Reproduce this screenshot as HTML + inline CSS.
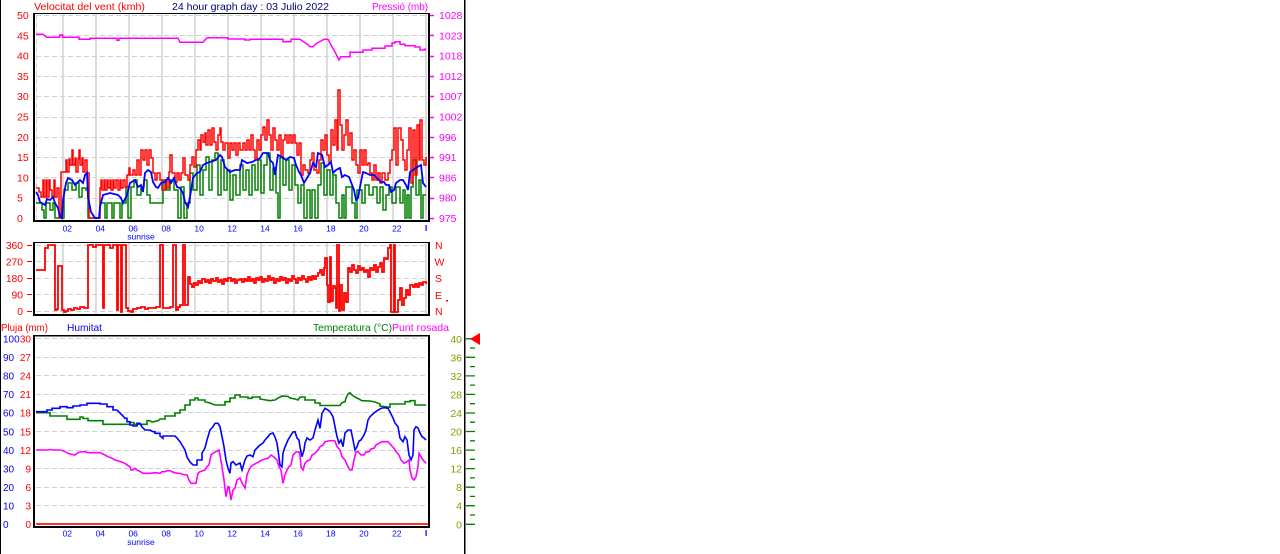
<!DOCTYPE html>
<html>
<head>
<meta charset="utf-8">
<style>
html,body{margin:0;padding:0;background:#fff;}
svg{display:block;}
text{font-family:"Liberation Sans",Arial,sans-serif;}
</style>
</head>
<body>
<svg width="1280" height="554" viewBox="0 0 1280 554" xmlns="http://www.w3.org/2000/svg">
<rect x="0" y="0" width="1280" height="554" fill="#fff"/>
<!-- outer lines -->
<rect x="0" y="0" width="1" height="554" fill="#000"/>
<rect x="464" y="0" width="1.5" height="554" fill="#000"/>

<!-- ========== TOP PANEL ========== -->
<g fill="#dcdcdc">
<rect x="62" y="14" width="2" height="206"/><rect x="95" y="14" width="2" height="206"/><rect x="128" y="14" width="2" height="206"/><rect x="161" y="14" width="2" height="206"/><rect x="194" y="14" width="2" height="206"/><rect x="227" y="14" width="2" height="206"/><rect x="260" y="14" width="2" height="206"/><rect x="293" y="14" width="2" height="206"/><rect x="326" y="14" width="2" height="206"/><rect x="359" y="14" width="2" height="206"/><rect x="392" y="14" width="2" height="206"/><rect x="425" y="14" width="2" height="206"/>
</g>
<g stroke="#d0d0d0" stroke-width="1" stroke-dasharray="5 3" fill="none">
<path d="M36 15.5H427M36 35.5H427M36 56.5H427M36 76.5H427M36 96.5H427M36 117.5H427M36 137.5H427M36 157.5H427M36 177.5H427M36 198.5H427"/>
<path d="M36.5 15V219"/>
</g>

<!-- pressure -->
<path fill="none" stroke="#ff00ff" stroke-width="1.5" d="M36 34.3 H43 L46.7 37.3 H59.5 V35 H62.7 V37.3 H79 V39.3 H90 V38.3 H117 V40.3 H119 V38.3 H178 L180 42.3 H203 L207 37.7 H228 V39 H245 V40 H250 V39.3 H283 V41.7 H291 V39.3 H300 L304 42 L307 44 L310 46.7 H313 L317 43 L321 41 L324 39.3 H328 L331 45 L335 52 L339 60 L341 56.7 H350 V52.3 H363 V50 H372 V48.3 H385 V46 H392 V43 H395 V41.7 H400 V44.3 H405 V45.7 H415 V47 H420 V50 H425 V49 H426"/>

<!-- wind green -->
<path fill="none" stroke="#008000" stroke-width="1.5" d="M36 203 H42 V210 H44 V218 H46 V203 H50 V210 H53 V203 H55 V218 H64 V190 H68 V183 H72 V190 H76 V183 H79 V197 H82 V188 H86 V190 H88 V218 H100 V203 H105 V218 H107 V203 H112 V218 H114 V203 H120 V218 H122 V203 H126 V187 H128 V218 H131 V187 H134 V180 H137 V195 H141 V187 H144 V180 H147 V195 H150 V203 H163 V180 H166 V190 H170 V180 H174 V190 H178 V218 H181 V187 H184 V218 H187 V203 H190 V173 H193 V190 H197 V165 H200 V195 H203 V170 H206 V157 H209 V190 H212 V160 H215 V153 H218 V195 H221 V160 H224 V190 H227 V170 H230 V200 H233 V175 H236 V195 H240 V165 H243 V190 H246 V170 H249 V195 H252 V165 H255 V190 H258 V160 H261 V193 H264 V165 H267 V153 H270 V190 H273 V168 H276 V193 H278 V218 H280 V158 H283 V185 H286 V160 H289 V190 H292 V165 H295 V185 H298 V203 H301 V185 H304 V218 H307 V190 H310 V218 H312 V190 H315 V218 H318 V185 H321 V163 H324 V195 H327 V170 H330 V195 H333 V175 H336 V203 H339 V218 H342 V195 H344 V218 H346 V187 H352 V203 H355 V218 H357 V190 H362 V203 H365 V185 H369 V195 H373 V187 H377 V203 H380 V187 H383 V210 H386 V195 H389 V187 H392 V203 H396 V187 H400 V203 H403 V190 H405 V218 H407 V195 H409 V218 H411 V187 H413 V160 H416 V195 H419 V180 H421 V218 H423 V195 H426"/>

<!-- wind gust red -->
<path fill="none" stroke="#ff0000" stroke-width="1.5" d="M36 188 H39 V192 H41 V197 H43 V180 H44 V197 H46 V180 H47 V197 H49 V180 H50 V190 H52 V197 H54 V180 H55 V197 H57 V188 H59 V218 H61 V172 H64 V172 H66 V160 H67 V172 H69 V159 H70 V165 H72 V150 H73 V165 H75 V158 H76 V172 H78 V159 H79 V150 H80 V165 H82 V158 H83 V172 H85 V160 H87 V173 H89 V218 H100 V188 H101 V180 H102 V190 H104 V180 H105 V190 H107 V180 H108 V188 H110 V180 H111 V190 H113 V180 H114 V188 H116 V180 H118 V190 H120 V180 H121 V188 H123 V180 H125 V187 H127 V175 H129 V168 H130 V175 H133 V170 H135 V175 H137 V160 H139 V175 H141 V150 H143 V160 H145 V150 H147 V165 H149 V150 H151 V158 H153 V173 H155 V180 H157 V173 H160 V180 H162 V190 H165 V180 H167 V188 H169 V172 H170 V155 H172 V173 H175 V182 H177 V173 H179 V180 H181 V173 H183 V158 H185 V175 H188 V180 H190 V165 H192 V157 H194 V167 H196 V150 H198 V140 H200 V150 H201 V135 H203 V142 H205 V133 H206 V145 H208 V130 H210 V145 H212 V128 H214 V142 H216 V150 H218 V135 H220 V128 H221 V142 H223 V150 H225 V143 H228 V158 H230 V143 H232 V150 H234 V143 H236 V155 H238 V143 H240 V150 H243 V143 H245 V150 H247 V140 H249 V150 H251 V135 H253 V150 H255 V160 H257 V140 H259 V150 H261 V135 H263 V127 H265 V140 H267 V120 H269 V135 H271 V150 H273 V128 H275 V140 H277 V150 H279 V135 H281 V157 H283 V140 H285 V135 H287 V143 H289 V135 H291 V143 H293 V135 H295 V143 H297 V155 H299 V143 H301 V175 H303 V165 H305 V170 H308 V173 H310 V160 H312 V153 H314 V170 H317 V173 H319 V160 H321 V140 H323 V150 H325 V135 H327 V155 H329 V163 H331 V130 H333 V145 H335 V120 H337 V150 H338 V90 H340 V125 H342 V150 H344 V135 H346 V120 H348 V145 H350 V133 H352 V160 H354 V150 H356 V165 H358 V173 H360 V150 H362 V165 H364 V150 H366 V165 H368 V163 H370 V173 H372 V180 H374 V165 H376 V180 H378 V173 H380 V183 H382 V173 H385 V180 H388 V173 H390 V160 H392 V150 H394 V128 H396 V165 H398 V128 H401 V140 H403 V160 H405 V170 H407 V150 H409 V128 H411 V183 H413 V130 H415 V175 H417 V125 H419 V160 H420 V120 H422 V160 H424 V165 H426 V157"/>

<!-- wind avg blue -->
<polyline fill="none" stroke="#0000ff" stroke-width="1.8" points="36,192 38,195 40,202 45,205 47,199 50,200 53,197 55,203 58,208 60,216 62,218 63,200 66,183 68,178 72,180 75,185 77,183 80,180 83,183 85,175 87,173 88,197 91,212 95,218 99,218 100,207 103,195 110,193 118,195 121,198 123,203 127,195 130,183 135,180 138,187 141,185 143,192 145,173 148,170 151,172 153,182 156,187 158,188 161,183 165,182 168,178 171,183 174,178 177,187 180,188 183,193 185,202 188,207 190,197 193,178 197,173 200,172 203,165 207,163 213,161 216,160 220,155 222,157 225,167 230,172 235,170 240,170 242,160 247,163 252,162 256,160 260,158 263,153 268,153 270,160 273,163 275,175 278,155 282,157 286,160 290,157 294,158 296,165 299,172 301,175 304,183 307,178 310,173 313,163 316,167 318,153 322,155 325,167 328,165 331,162 333,173 336,170 340,168 342,177 345,175 349,177 351,182 354,190 356,200 358,198 360,187 363,172 366,173 370,175 374,175 377,178 381,182 384,182 386,185 389,185 391,192 394,190 396,183 400,180 403,180 406,185 408,190 410,172 413,170 416,168 419,166 421,165 423,183 426,187"/>

<!-- top frame -->
<g fill="#000">
<rect x="33" y="13" width="397" height="1"/>
<rect x="33" y="13" width="2" height="209"/>
<rect x="428" y="13" width="2" height="209"/>
<rect x="33" y="220" width="397" height="2"/>
</g>
<!-- right axis ticks -->
<path stroke="#ff00ff" stroke-width="1.5" d="M430 15.5H434M430 35.5H434M430 56.5H434M430 76.5H434M430 96.5H434M430 117.5H434M430 137.5H434M430 157.5H434M430 177.5H434M430 198.5H434M430 218.5H434"/>

<!-- top titles -->
<text x="34" y="10" fill="#ff0000" font-size="10.5" textLength="111" lengthAdjust="spacingAndGlyphs">Velocitat del vent (kmh)</text>
<text x="172" y="10" fill="#000080" font-size="10.5" textLength="157" lengthAdjust="spacingAndGlyphs">24 hour graph day : 03 Julio 2022</text>
<text x="372" y="10" fill="#ff00ff" font-size="10.5" textLength="56" lengthAdjust="spacingAndGlyphs">Pressió (mb)</text>

<g fill="#ff0000" font-size="10.5">
<text x="17" y="19">50</text><text x="17" y="39.3">45</text><text x="17" y="59.6">40</text><text x="17" y="79.9">35</text><text x="17" y="100.2">30</text><text x="17" y="120.5">25</text><text x="17" y="140.8">20</text><text x="17" y="161.1">15</text><text x="17" y="181.4">10</text><text x="17" y="201.7">5</text><text x="17" y="222">0</text>
</g>
<g fill="#ff00ff" font-size="10.5">
<text x="439" y="19">1028</text><text x="439" y="39.3">1023</text><text x="439" y="59.6">1018</text><text x="439" y="79.9">1012</text><text x="439" y="100.2">1007</text><text x="439" y="120.5">1002</text><text x="439" y="140.8">996</text><text x="439" y="161.1">991</text><text x="439" y="181.4">986</text><text x="439" y="201.7">980</text><text x="439" y="222">975</text>
</g>
<g fill="#0000ff" font-size="8.5" text-anchor="middle">
<text x="67.3" y="231.5">02</text><text x="100.3" y="231.5">04</text><text x="133.2" y="231.5">06</text><text x="166.2" y="231.5">08</text><text x="199.1" y="231.5">10</text><text x="232.1" y="231.5">12</text><text x="265" y="231.5">14</text><text x="298" y="231.5">16</text><text x="330.9" y="231.5">18</text><text x="363.9" y="231.5">20</text><text x="396.8" y="231.5">22</text>
<text x="141" y="239.5">sunrise</text>
</g>
<rect x="425.5" y="225" width="1.2" height="6" fill="#0000ff"/>

<!-- ========== DIRECTION PANEL ========== -->
<g fill="#dcdcdc">
<rect x="62" y="243" width="2" height="71"/><rect x="95" y="243" width="2" height="71"/><rect x="128" y="243" width="2" height="71"/><rect x="161" y="243" width="2" height="71"/><rect x="194" y="243" width="2" height="71"/><rect x="227" y="243" width="2" height="71"/><rect x="260" y="243" width="2" height="71"/><rect x="293" y="243" width="2" height="71"/><rect x="326" y="243" width="2" height="71"/><rect x="359" y="243" width="2" height="71"/><rect x="392" y="243" width="2" height="71"/><rect x="425" y="243" width="2" height="71"/>
</g>
<path stroke="#d0d0d0" stroke-width="1" stroke-dasharray="5 3" fill="none" d="M36 245.5H427M36 261.5H427M36 278.5H427M36 294.5H427M36 311.5H427"/>

<path fill="none" stroke="#ff0000" stroke-width="1.8" d="M36 270 H45 V248 H48 V245 H55 V310 H57 V309 H58 V266 H62 V310 H64 V312 H66 V311 H68 V309 H71 V310 H74 V308 H77 V309 H80 V307 H84 V308 H88 V245 H93 V247 H96 V245 H103 V308 H104 V245 H110 V248 H113 V245 H117 V310 H118 V245 H121 V312 H122 V245 H126 V308 H128 V311 H131 V312 H133 V309 H137 V308 H141 V307 H145 V309 H148 V308 H152 V308 H156 V307 H160 V245 H163 V308 H170 V307 H173 V245 H176 V310 H178 V307 H180 V305 H183 V245 H185 V305 H188 V277 H190 V284 H192 V287 H194 V283 H196 V285 H198 V281 H200 V283 H202 V279 H205 V282 H207 V280 H209 V283 H211 V279 H213 V281 H216 V278 H218 V282 H220 V280 H222 V284 H224 V279 H226 V281 H228 V278 H231 V281 H233 V279 H235 V283 H237 V280 H240 V279 H242 V282 H244 V279 H246 V281 H248 V277 H250 V281 H252 V279 H254 V283 H256 V278 H258 V280 H260 V277 H262 V282 H264 V279 H266 V281 H268 V276 H270 V280 H272 V278 H274 V283 H276 V279 H278 V281 H280 V277 H282 V280 H284 V278 H286 V283 H288 V279 H290 V281 H292 V276 H294 V279 H296 V283 H298 V278 H300 V280 H302 V276 H304 V279 H306 V282 H308 V277 H310 V280 H312 V276 H314 V279 H316 V276 H318 V273 H320 V270 H322 V275 H324 V268 H325 V258 H327 V285 H328 V302 H330 V257 H331 V301 H333 V286 H335 V288 H336 V308 H337 V245 H339 V311 H340 V285 H342 V310 H344 V293 H346 V302 H348 V268 H350 V272 H352 V265 H354 V270 H356 V273 H358 V266 H360 V270 H362 V268 H364 V272 H366 V270 H368 V277 H370 V268 H372 V270 H374 V265 H376 V272 H378 V267 H380 V263 H382 V272 H384 V258 H386 V259 H388 V248 H390 V245 H391 V312 H394 V245 H395 V312 H398 V300 H400 V288 H402 V305 H404 V298 H406 V290 H408 V295 H410 V285 H413 V287 H415 V284 H417 V287 H419 V283 H421 V285 H423 V282 H426 V284"/>

<g fill="#000">
<rect x="33" y="242" width="397" height="1"/>
<rect x="33" y="242" width="2" height="74"/>
<rect x="428" y="242" width="2" height="74"/>
<rect x="33" y="314" width="397" height="2"/>
</g>
<path stroke="#ff0000" stroke-width="1" d="M27 245.5H32M27 261.5H32M27 278.5H32M27 294.5H32M27 311.5H32"/>
<g fill="#ff0000" font-size="10.3" text-anchor="end">
<text x="23" y="249">360</text><text x="23" y="265.5">270</text><text x="23" y="282">180</text><text x="23" y="298.5">90</text><text x="23" y="315">0</text>
</g>
<g fill="#ff0000" font-size="10.5">
<text x="435" y="249">N</text><text x="434.5" y="265.5">W</text><text x="435" y="282">S</text><text x="435" y="299">E</text><text x="435" y="315">N</text>
</g>
<rect x="446" y="300" width="2" height="1.5" fill="#ff0000"/>

<!-- ========== BOTTOM PANEL ========== -->
<text x="1" y="331" fill="#ff0000" font-size="10.5" textLength="47" lengthAdjust="spacingAndGlyphs">Pluja (mm)</text>
<text x="67" y="331" fill="#0000ff" font-size="10.5" textLength="35" lengthAdjust="spacingAndGlyphs">Humitat</text>
<text x="313" y="331" fill="#008000" font-size="10.5" textLength="79" lengthAdjust="spacingAndGlyphs">Temperatura (°C)</text>
<text x="392" y="331" fill="#ff00ff" font-size="10.5" textLength="57" lengthAdjust="spacingAndGlyphs">Punt rosada</text>

<path stroke="#d0d0d0" stroke-width="1" stroke-dasharray="5 3" fill="none" d="M36 338.5H427M36 357.5H427M36 375.5H427M36 394.5H427M36 412.5H427M36 431.5H427M36 450.5H427M36 468.5H427M36 487.5H427M36 505.5H427"/>
<rect x="36" y="523.2" width="392" height="1.6" fill="#ff0000"/>

<!-- temperature -->
<polyline fill="none" stroke="#008000" stroke-width="1.6" points="36,412.7 50,412.7 50,416 67,416 67,419.3 80,419.3 80,417 83,417 83,418.5 88,418.5 88,420.7 103,420.7 103,424.3 130,424.3 130,422.5 134,422.5 134,424.3 147,424.3 147,420.7 150,420.7 152,422 158,420.7 160,419 165,419 165,416 175,416 175,413 180,413 180,410 185,410 185,405 190,405 190,400 195,400 195,398 198,398 198,400 205,400 205,401.7 210,403 215,405 225,405 225,401.7 230,401.7 230,398 235,398 235,395 240,395 240,397 248,397 248,398.3 252,398.3 252,397 260,397 260,399 270,400.7 275,400 280,397 282,396 288,396.5 290,398 295,399 298,400 300,397 305,397 305,400 315,400 315,403 320,403 320,405.5 340,405.5 342,402.7 345,401.7 346,398 348,394 350,392.7 352,395 355,397 358,398.5 362,400.7 370,401 375,402 380,404 380,406 390,407.3 390,404 405,404 405,401.7 410,401.7 410,400.7 415,400.7 415,405 426,405"/>
<!-- humidity -->
<polyline fill="none" stroke="#0000ff" stroke-width="1.6" points="36,411.7 47,411.7 47,410 52,410 52,408.3 60,408.3 60,406.7 67,406.7 67,407.7 73,407.7 73,406 80,406 80,405 87,405 87,403.3 100,403.3 100,404 107,404 107,406.7 113,406.7 113,410 117,410 120,413 123,416 125,418.3 127,418.3 127,421.7 130,421.7 130,425 133,425 133,426 137,426 137,423.3 140,423.3 142,427 145,430 150,430 153,431.7 155,431.7 155,433.3 160,433.3 160,436 163,438.3 163,436 175,436 177,438 180,441.7 182,445 185,450 187,457 190,462 193,465 197,465 197,460 202,460 202,453 205,448 207,440 210,430 213,426.7 215,423.3 218,423.3 220,426.7 222,436.7 224,446.7 226,460 228,468.3 230,473.3 231,463 233,461.7 236,465 240,463 242,470 245,460 247,456 250,455 253,456.7 255,450 258,447 260,445 263,443 265,440 268,436.7 270,434 273,433 275,437 277,443 278,450 280,465 282,467 283,453 285,447 288,440 290,436.7 293,432 295,431.7 297,438 299,440 300,447 302,456.7 304,450 305,443 307,438 310,440 313,438 315,430 317,423.3 318,420 320,428.3 322,413.3 325,408.3 328,410 330,411.7 333,416.7 335,426.7 337,436.7 339,443 341,440 343,446.7 345,433 348,430 351,430 353,440 355,450 357,446.7 359,441 361,440 364,435 366,430 368,420 370,416.7 374,413 378,410 382,408 385,407.7 388,408.3 390,412 393,418 395,423 398,426.7 400,438 403,441.7 405,436.7 407,440 409,455 411,460 413,455 414,430 416,426.7 418,428 420,433 422,436.7 424,438 426,440"/>
<!-- dew point -->
<polyline fill="none" stroke="#ff00ff" stroke-width="1.6" points="36,450 48,450 50,449.5 55,450 60,450 63,450.7 65,451.7 68,453.3 70,454 75,455 77,453.3 80,452 85,451.7 88,452.7 100,452.7 103,454 105,455 108,456.7 112,458.3 115,460 120,461.5 125,463.3 127,465 130,466.7 131,470 133,470 135,468.3 137,470 140,471.5 143,473.3 150,473.3 155,472.7 160,473.3 162,471.7 165,471.7 167,470.7 170,470.7 172,471.7 177,473.3 180,473.3 183,474.5 187,475 189,480 191,483.3 196,483.3 198,473.3 200,471.7 205,470 207,466.7 209,465 211,455 213,453.3 216,451.7 219,450 220,455 222,466.7 224,480 226,496.7 228,486.7 229,486.7 231,500 233,490 235,488 237,480 240,478 242,483 245,488 247,475 249,470 251,466.7 253,465 256,463.3 259,461.7 262,460 265,459 268,458.3 271,455 274,457 277,460 279,466.7 281,470 283,483.3 285,475 287,470 289,466.7 291,465 293,455 296,452 299,451.7 300,455 301,467 303,470 305,463.3 307,461 310,460 312,455 315,453.3 318,450 320,446.7 323,445 325,441.7 328,441 333,440.5 335,441 337,446.7 340,450 342,456.7 345,460 348,466.7 350,470 352,470 354,460 356,452 358,451.7 361,455 364,455 366,452 369,451.7 371,449 374,448.3 376,445 379,443.3 382,441.7 388,441.7 391,445 394,448.3 396,451.7 399,455 401,460 404,463.3 407,461.7 409,460 410,470 412,478 414,480 416,476.7 418,466.7 419,453.3 421,456.7 423,460 426,463.3"/>

<g fill="#000">
<rect x="33" y="335" width="397" height="1.5"/>
<rect x="33" y="335" width="2" height="193"/>
<rect x="428" y="335" width="2" height="193"/>
<rect x="33" y="526" width="397" height="2"/>
</g>

<g fill="#0000ff" font-size="10">
<text x="3" y="342.5">100</text><text x="3" y="361.1">90</text><text x="3" y="379.6">80</text><text x="3" y="398.2">70</text><text x="3" y="416.7">60</text><text x="3" y="435.3">50</text><text x="3" y="453.8">40</text><text x="3" y="472.4">30</text><text x="3" y="490.9">20</text><text x="3" y="509.5">10</text><text x="3" y="528">0</text>
</g>
<g fill="#ff0000" font-size="10" text-anchor="end">
<text x="31" y="342.5">30</text><text x="31" y="361.1">27</text><text x="31" y="379.6">24</text><text x="31" y="398.2">21</text><text x="31" y="416.7">18</text><text x="31" y="435.3">15</text><text x="31" y="453.8">12</text><text x="31" y="472.4">9</text><text x="31" y="490.9">6</text><text x="31" y="509.5">3</text><text x="31" y="528">0</text>
</g>
<g fill="#8c9a00" font-size="10.5" text-anchor="end">
<text x="462" y="342.8">40</text><text x="462" y="361.3">36</text><text x="462" y="379.9">32</text><text x="462" y="398.4">28</text><text x="462" y="417">24</text><text x="462" y="435.5">20</text><text x="462" y="454.1">16</text><text x="462" y="472.6">12</text><text x="462" y="491.2">8</text><text x="462" y="509.7">4</text><text x="462" y="528.3">0</text>
</g>
<path stroke="#008000" stroke-width="1.3" d="M466 338.8H475M466 357.3H475M466 375.9H475M466 394.4H475M466 413H475M466 431.5H475M466 450.1H475M466 468.6H475M466 487.2H475M466 505.7H475M466 524.3H475 M470 348H475M470 366.6H475M470 385.1H475M470 403.7H475M470 422.2H475M470 440.8H475M470 459.3H475M470 477.9H475M470 496.4H475M470 515H475"/>
<polygon points="470,339 480,333 480,345" fill="#ff0000"/>

<g fill="#0000ff" font-size="8.5" text-anchor="middle">
<text x="67.3" y="536.5">02</text><text x="100.3" y="536.5">04</text><text x="133.2" y="536.5">06</text><text x="166.2" y="536.5">08</text><text x="199.1" y="536.5">10</text><text x="232.1" y="536.5">12</text><text x="265" y="536.5">14</text><text x="298" y="536.5">16</text><text x="330.9" y="536.5">18</text><text x="363.9" y="536.5">20</text><text x="396.8" y="536.5">22</text>
<text x="141" y="545">sunrise</text>
</g>
<rect x="425.5" y="530" width="1.2" height="6" fill="#0000ff"/>
</svg>
</body>
</html>
